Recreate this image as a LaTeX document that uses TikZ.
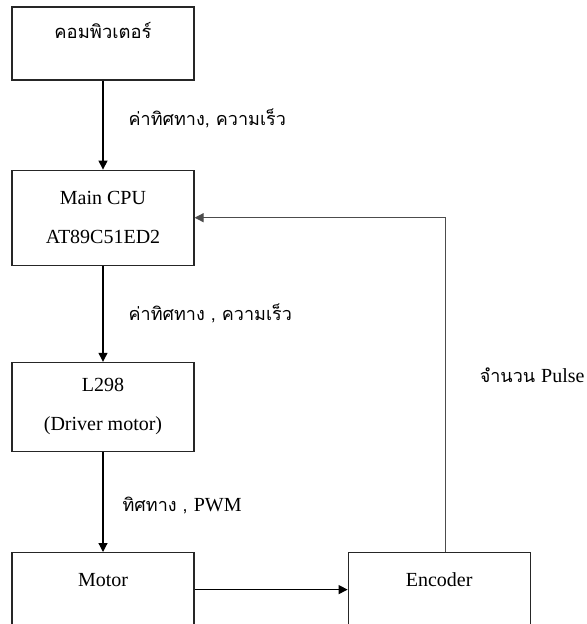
\documentclass[tikz,border=0pt]{standalone}
\usepackage{fontspec}
\setmainfont{Liberation Serif}
\newfontfamily\thai[Script=Thai]{Loma}
\usetikzlibrary{arrows.meta,positioning}

\begin{document}
\begin{tikzpicture}[
box/.style={draw=black!85,line width=0.6pt,minimum width=91pt,align=center,font=\fontsize{10}{19.5}\selectfont},
arrow/.style={-{Triangle[length=4.5pt,width=4.5pt]},line width=0.6pt},
lbl/.style={font=\thai\fontsize{9}{12}\selectfont,inner sep=0pt}
]
\useasboundingbox (0,0) rectangle (293pt,-312pt);
\node[box,minimum height=36.5pt,text height=8pt,text depth=13pt] (comp) at (51.5pt,-21.75pt) {\thai\fontsize{9.2}{12}\selectfont คอมพิวเตอร์};
\node[box,minimum height=47.5pt,below=44.5pt of comp] (cpu) {Main CPU\\AT89C51ED2};
\node[box,minimum height=44.5pt,below=48pt of cpu] (driver) {L298\\(Driver motor)};
\node[box,minimum height=37pt,text height=8pt,text depth=11.5pt,below=50pt of driver] (motor) {Motor};
\node[box,minimum height=37pt,text height=8pt,text depth=11.5pt,right=76.5pt of motor] (enc) {Encoder};
\draw[arrow] (comp) -- node[lbl,right=12.5pt,yshift=3.25pt] (cmd1) {ค่าทิศทาง, ความเร็ว} (cpu);
\draw[arrow] (cpu) -- node[lbl,right=12.5pt] (cmd2) {ค่าทิศทาง , ความเร็ว} (driver);
\draw[arrow] (driver) -- node[lbl,right=9.5pt,yshift=-2pt] (pwm) {ทิศทาง , {\rmfamily\fontsize{10}{12}\selectfont PWM}} (motor);
\draw[arrow] (motor) -- (enc);
\draw[arrow,draw=black!70] ([xshift=3pt]enc.north) |- node[lbl,pos=0.25,right=17pt,yshift=5pt] (pulse) {จำนวน {\rmfamily\fontsize{10}{12}\selectfont Pulse}} (cpu.east);
\end{tikzpicture}
\end{document}
